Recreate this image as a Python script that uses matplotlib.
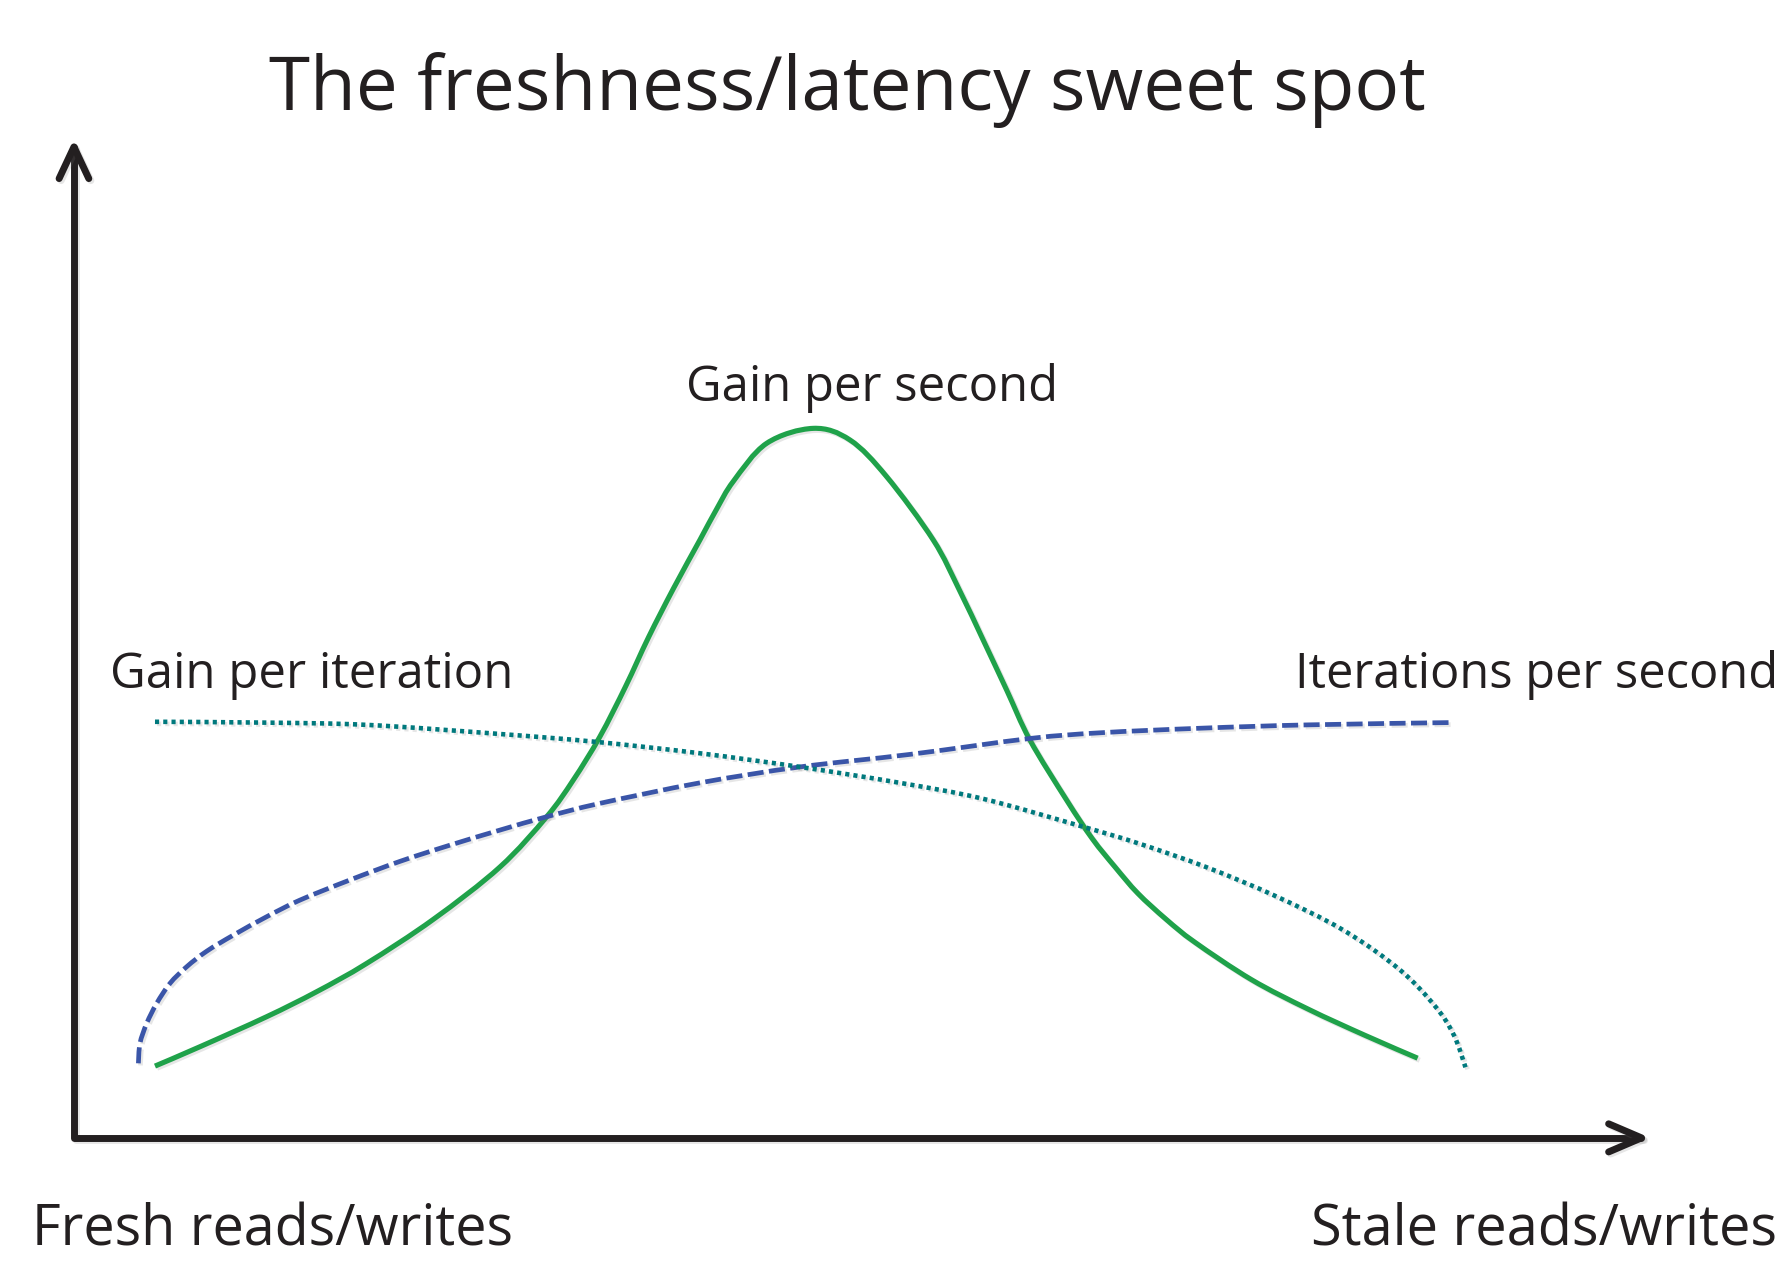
import matplotlib
matplotlib.use("Agg")
import matplotlib.pyplot as plt
import matplotlib.patheffects as pe
from matplotlib.path import Path
from matplotlib.patches import PathPatch

# ---- data (x: fresh -> stale, y: value, 0..100 axis units) ----
gain_per_second_x = [5.18, 8.06, 12.32, 15.51, 18.71, 22.97, 27.23, 30.22, 31.92, 33.62,
                     35.27, 36.73, 38.33, 40.01, 41.08, 42.15, 44.28, 47.26, 49.61, 51.95,
                     54.93, 56.58, 58.12, 59.64, 61.11, 63.45, 65.09, 66.55, 68.0, 69.82,
                     71.64, 75.27, 78.91, 82.55, 85.89]
gain_per_second_y = [7.25, 9.21, 12.24, 14.76, 17.62, 22.07, 27.36, 32.44, 36.15, 40.53,
                     45.63, 50.57, 55.52, 60.39, 63.51, 66.32, 70.16, 71.67, 70.49, 66.79,
                     60.39, 55.40, 50.29, 45.17, 40.18, 34.13, 30.23, 27.36, 24.71, 22.07,
                     19.77, 15.98, 12.99, 10.34, 8.05]

iter_per_second_x = [4.12, 4.22, 4.65, 5.29, 6.14, 7.21, 8.48, 10.19, 12.32, 14.45, 17.64,
                     20.84, 24.04, 27.23, 30.22, 33.62, 40.0, 46.40, 53.45, 61.09, 65.60,
                     72.0, 78.91, 87.93]
iter_per_second_y = [7.53, 9.54, 11.56, 13.59, 15.61, 17.29, 18.85, 20.48, 22.34, 24.02, 26.05,
                     27.93, 29.57, 31.09, 32.44, 33.79, 35.86, 37.47, 38.74, 40.34, 40.92,
                     41.38, 41.72, 41.95]

gain_per_iter_x = [5.18, 12.0, 18.69, 27.2, 33.38, 40.0, 46.40, 52.80, 58.11, 64.36, 68.0,
                   72.36, 76.73, 81.09, 84.73, 87.05, 88.22, 88.95]
gain_per_iter_y = [42.03, 41.95, 41.72, 40.80, 40.0, 38.85, 37.47, 35.86, 34.25, 31.49, 29.77,
                   27.36, 24.48, 21.03, 17.01, 13.22, 10.34, 7.13]

title = "The freshness/latency sweet spot"
label_gps = "Gain per second"
label_gpi = "Gain per iteration"
label_ips = "Iterations per second"
x_left_label = "Fresh reads/writes"
x_right_label = "Stale reads/writes"

# ---- styling ----
GREEN = "#1fa24a"
BLUE = "#3a55a8"
TEAL = "#00797d"
INK = "#231f20"
FONT = ["Open Sans", "DejaVu Sans"]

W, H, DPI = 1784, 1263, 100
fig = plt.figure(figsize=(W / DPI, H / DPI), dpi=DPI, facecolor="white")
ax = fig.add_axes([0, 0, 1, 1])
ax.set_xlim(-4.727, 109.31)
ax.set_ylim(-12.64, 114.94)
ax.axis("off")

shadow = [pe.SimpleLineShadow(offset=(1.5, -1.5), shadow_color="#777777", alpha=0.18),
          pe.Normal()]


def smooth_path(xs, ys):
    """Cubic Bezier path through the read points (Catmull-Rom tangents)."""
    pts = list(zip(xs, ys))
    n = len(pts)
    verts = [pts[0]]
    codes = [Path.MOVETO]
    for i in range(n - 1):
        p0 = pts[i - 1] if i > 0 else pts[i]
        p1 = pts[i]
        p2 = pts[i + 1]
        p3 = pts[i + 2] if i + 2 < n else pts[i + 1]
        c1 = (p1[0] + (p2[0] - p0[0]) / 6.0, p1[1] + (p2[1] - p0[1]) / 6.0)
        c2 = (p2[0] - (p3[0] - p1[0]) / 6.0, p2[1] - (p3[1] - p1[1]) / 6.0)
        verts += [c1, c2, p2]
        codes += [Path.CURVE4] * 3
    return Path(verts, codes)


def draw_curve(xs, ys, color, lw, ls):
    patch = PathPatch(smooth_path(xs, ys), facecolor="none", edgecolor=color, lw=lw,
                      linestyle=ls, capstyle="butt", joinstyle="round",
                      path_effects=shadow, zorder=4)
    ax.add_patch(patch)


# axes with open arrow heads
ax_kw = dict(color=INK, lw=5.0, solid_capstyle="round", solid_joinstyle="round",
             path_effects=shadow, zorder=3)
ax.plot([0, 0, 100.2], [100.1, 0, 0], **ax_kw)
ax.plot([-0.95, 0, 0.95], [96.9, 100.1, 96.9], **ax_kw)
ax.plot([98.1, 100.2, 98.1], [1.42, 0, -1.42], **ax_kw)

# curves
draw_curve(gain_per_second_x, gain_per_second_y, GREEN, 3.7, "solid")
draw_curve(iter_per_second_x, iter_per_second_y, BLUE, 3.4, (0, (3.4, 1.15)))
draw_curve(gain_per_iter_x, gain_per_iter_y, TEAL, 3.3, (0, (0.9, 0.9)))

# texts: (text, x, y, ha, target width in px)
specs = [
    (title, 49.42, 103.79, "center", 1155, 60),
    (label_gps, 51.02, 74.48, "center", 372, 40),
    (label_gpi, 2.33, 45.40, "left", 402, 40),
    (label_ips, 78.04, 45.40, "left", 482, 40),
    (x_left_label, -2.69, -10.9, "left", 480, 40),
    (x_right_label, 79.05, -10.9, "left", 466, 40),
]
texts = []
for s, x, y, ha, target, fs in specs:
    t = ax.text(x, y, s, ha=ha, va="baseline", fontsize=fs, color=INK, family=FONT,
                zorder=5)
    texts.append((t, target, fs))

renderer = fig.canvas.get_renderer()
for t, target, fs in texts:
    w = t.get_window_extent(renderer).width
    t.set_fontsize(fs * target / w)

fig.savefig("out.png", dpi=DPI, facecolor="white")
